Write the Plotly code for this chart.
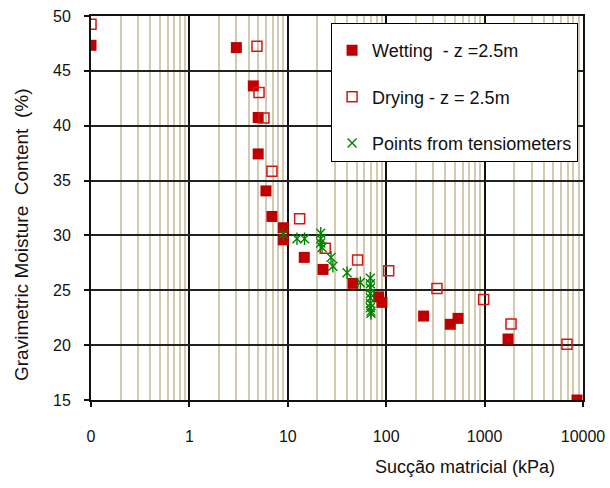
import plotly.graph_objects as go

# ---- data ----
wet_x = [0.1, 3.0, 4.46, 5.0, 5.0, 6.0, 6.9, 9.0, 9.0, 14.7, 22.8, 46, 84, 90.6, 240, 448, 537, 1730, 8690]
wet_y = [47.33, 47.12, 43.63, 40.75, 37.43, 34.06, 31.73, 30.7, 29.6, 28.0, 26.9, 25.63, 24.4, 23.9, 22.65, 21.9, 22.44, 20.56, 15.0]

dry_x = [0.1, 4.86, 5.1, 5.72, 6.9, 13.2, 24.0, 51.2, 106, 328, 977, 1855, 6870]
dry_y = [49.24, 47.24, 43.02, 40.71, 35.86, 31.51, 28.82, 27.75, 26.78, 25.17, 24.17, 21.92, 20.07]

ten_x = [9.0, 12.4, 14.8, 21.6, 21.6, 21.6, 22.3, 27.5, 28.7, 40, 54.6, 69, 69, 69, 69, 69, 69, 69, 70, 70]
ten_y = [30.1, 29.7, 29.7, 30.2, 29.7, 29.3, 28.9, 28.0, 27.2, 26.6, 25.7, 26.1, 25.6, 25.2, 24.7, 24.3, 23.8, 23.4, 23.1, 22.9]

x_tickvals = [0.1, 1, 10, 100, 1000, 10000]
x_ticktext = ["0", "1", "10", "100", "1000", "10000"]
y_tickvals = [15, 20, 25, 30, 35, 40, 45, 50]

legend_names = ["Wetting  - z =2.5m", "Drying - z = 2.5m", "Points from tensiometers"]
x_title = "Sucção matricial (kPa)"
y_title = "Gravimetric Moisture  Content  (%)"

FONT = "Liberation Sans, Arial, sans-serif"
GREEN = "#008000"

fig = go.Figure()
fig.add_trace(go.Scatter(
    x=wet_x, y=wet_y, mode="markers", name=legend_names[0].replace("  ", " \u00a0"), legendgroup="a",
    marker=dict(symbol="square", size=11, color="#C00000", line=dict(width=0)),
))
fig.add_trace(go.Scatter(
    x=dry_x, y=dry_y, mode="markers", name=legend_names[1], legendgroup="b",
    marker=dict(symbol="square-open", size=10, color="#D01818", line=dict(width=1.5, color="#D01818")),
))
fig.add_trace(go.Scatter(
    x=ten_x, y=ten_y, mode="markers", name=legend_names[2], legendgroup="c",
    marker=dict(symbol="x-thin-open", size=9, color=GREEN, line=dict(width=1.4, color=GREEN)),
))
fig.add_trace(go.Scatter(
    x=ten_x, y=ten_y, mode="markers", name=legend_names[2], legendgroup="c", showlegend=False,
    marker=dict(symbol="line-ns-open", size=9, color=GREEN, line=dict(width=1.4, color=GREEN)),
))

fig.update_layout(
    width=610, height=488,
    margin=dict(l=91, r=27, t=16, b=88, autoexpand=False),
    paper_bgcolor="white", plot_bgcolor="white",
    font=dict(family=FONT, size=16, color="#111"),
    showlegend=True,
    legend=dict(
        x=0.99, y=0.981, xanchor="right", yanchor="top",
        bgcolor="white", bordercolor="black", borderwidth=1,
        font=dict(family=FONT, size=18, color="#111"),
        tracegroupgap=20, traceorder="grouped",
        title=dict(text="\u00a0", font=dict(size=6)),
    ),
    xaxis=dict(
        type="log", range=[-1, 4],
        tickvals=x_tickvals, ticktext=x_ticktext,
        showgrid=True, gridcolor="#111", gridwidth=1.5,
        minor=dict(dtick="D1", showgrid=True, gridcolor="#D3CBAF", gridwidth=1.5, ticks=""),
        showline=True, linecolor="#111", linewidth=2, mirror=True,
        ticks="outside", ticklen=5, tickcolor="#111", tickwidth=1.5,
        ticklabelstandoff=16, zeroline=False,
    ),
    yaxis=dict(
        range=[15, 50], tickvals=y_tickvals,
        showgrid=True, gridcolor="#222", gridwidth=1.5,
        showline=True, linecolor="#111", linewidth=2, mirror=True,
        ticks="outside", ticklen=5, tickcolor="#111", tickwidth=1.5,
        ticklabelstandoff=10, zeroline=False,
    ),
    annotations=[
        dict(text=x_title, xref="paper", yref="paper", x=0.76, y=-0.174,
             xanchor="center", yanchor="middle", showarrow=False,
             font=dict(family=FONT, size=18, color="#111")),
        dict(text=y_title.replace("  ", " \u00a0"), xref="paper", yref="paper", x=-0.14, y=0.43,
             xanchor="center", yanchor="middle", showarrow=False, textangle=-90,
             font=dict(family=FONT, size=19, color="#111")),
    ],
)

fig.write_html("out.html")
